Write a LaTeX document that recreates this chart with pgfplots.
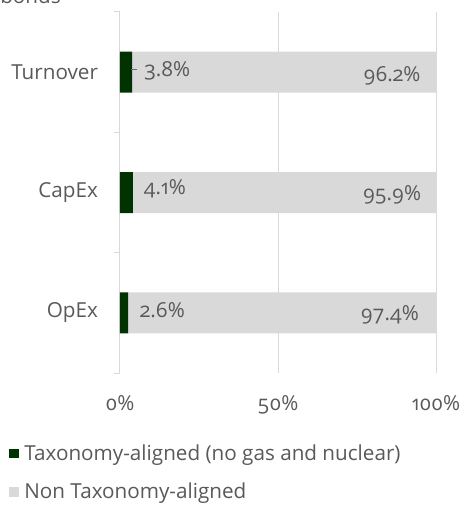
\documentclass[border=0pt]{standalone}
\usepackage{fontspec}
\setmainfont{Open Sans}[Numbers=OldStyle]
\usepackage{pgfplots}
\pgfplotsset{compat=1.18}
\definecolor{tgreen}{RGB}{0,51,0}
\definecolor{tgray}{RGB}{217,217,217}
\definecolor{ttext}{RGB}{89,89,89}
\newcommand{\cf}{\fontsize{15.5}{18}\selectfont}
\begin{document}
\begin{tikzpicture}[font=\cf, text=ttext]
\begin{axis}[
  xbar stacked,
  scale only axis,
  width=237pt, height=270.75pt,
  xmin=0, xmax=100, ymin=-0.5, ymax=2.5,
  bar width=30.75pt,
  xtick={0,50,100}, xticklabels={0\%,50\%,100\%},
  ytick={0,1,2}, yticklabels={OpEx,CapEx,Turnover},
  minor ytick={-0.5,0.5,1.5,2.5},
  major tick length=0pt,
  minor tick length=4.5pt,
  tick align=outside,
  tick style={draw=tgray, line width=0.75pt},
  xmajorgrids, grid style={draw=tgray, line width=0.75pt},
  axis lines*=left,
  x axis line style={draw=none},
  y axis line style={draw=tgray, line width=0.75pt, -},
  y tick label style={xshift=-13pt, font=\cf, text=ttext},
  x tick label style={yshift=-13.5pt, font=\cf, text=ttext},
  /pgf/number format/assume math mode=true,
  legend style={at={(rel axis cs:-0.352,-0.19)}, anchor=north west, draw=none, fill=none,
    font=\cf, text=ttext, row sep=11.5pt, inner sep=0pt},
  legend cell align=left,
  legend image code/.code={\fill[#1] (0pt,-3.6pt) rectangle (7.2pt,3.6pt); \path (9.5pt,0pt);},
]
\addplot[fill=tgreen, draw=none] coordinates {(2.6,0) (4.1,1) (3.8,2)};
\addlegendentry{Taxonomy-aligned (no gas and nuclear)}
\addplot[fill=tgray, draw=none] coordinates {(97.4,0) (95.9,1) (96.2,2)};
\addlegendentry{Non Taxonomy-aligned}
\coordinate (ls) at (axis cs:3.6,2.02);
\coordinate (le) at (axis cs:5.5,2.02);
\coordinate (a1) at (axis cs:14.9,2.01);
\coordinate (b1) at (axis cs:86.1,1.97);
\coordinate (a2) at (axis cs:14.2,1.03);
\coordinate (b2) at (axis cs:86.1,0.98);
\coordinate (a3) at (axis cs:13.4,0.025);
\coordinate (b3) at (axis cs:85.4,-0.02);
\end{axis}
\draw[color=gray!80!tgreen, line width=0.6pt] (ls) -- (le);
\node at (a1) {3.8\%};
\node at (b1) {96.2\%};
\node at (a2) {4.1\%};
\node at (b2) {95.9\%};
\node at (a3) {2.6\%};
\node at (b3) {97.4\%};
\node[anchor=base west, inner sep=0pt] at (-90pt,277.3pt) {bonds};
\pgfresetboundingbox
\path[use as bounding box] (-90pt,-100.5pt) rectangle (258pt,279.75pt);
\end{tikzpicture}
\end{document}
